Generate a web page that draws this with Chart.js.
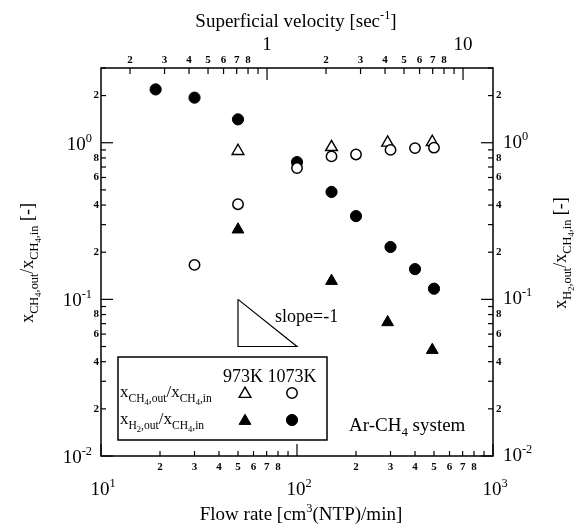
<!DOCTYPE html>
<html>
<head>
<meta charset="utf-8">
<script src="https://cdn.jsdelivr.net/npm/chart.js@4/dist/chart.umd.min.js"></script>
<style>
  html, body { margin: 0; padding: 0; background: #fff; }
  #wrap { width: 582px; height: 528px; }
</style>
</head>
<body>
<div id="wrap"><canvas id="c" width="582" height="528"></canvas></div>
<script>
// flow rate [cm3(NTP)/min] and outlet/inlet ratios
const ch4_973_flow = [50, 150, 290, 490];
const ch4_973_ratio = [0.885, 0.937, 1.0, 1.01];
const ch4_1073_flow = [30, 50, 100, 150, 200, 300, 400, 500];
const ch4_1073_ratio = [0.166, 0.405, 0.689, 0.818, 0.842, 0.90, 0.924, 0.93];
const h2_973_flow = [50, 150, 290, 490];
const h2_973_ratio = [0.279, 0.131, 0.0714, 0.0475];
const h2_1073_flow = [19, 30, 50, 100, 150, 200, 300, 400, 500];
const h2_1073_ratio = [2.19, 1.94, 1.41, 0.752, 0.485, 0.34, 0.216, 0.156, 0.117];

// slope = -1 guide triangle
const slopeFlow = [50, 50, 100, 50];
const slopeRatio = [0.1, 0.05, 0.05, 0.1];

// axis ranges
const flowRange = [10, 1000];
const velocityRange = [0.1422, 14.22];
const ratioRange = [0.01, 3];

// ticks
const flowTicks = [20, 30, 40, 50, 60, 70, 80, 90, 200, 300, 400, 500, 600, 700, 800, 900];
const flowTickLabels = ['2', '3', '4', '5', '6', '7', '8', '', '2', '3', '4', '5', '6', '7', '8', ''];
const flowMajor = [10, 100, 1000];
const flowMajorExp = ['1', '2', '3'];
const velTicks = [0.2, 0.3, 0.4, 0.5, 0.6, 0.7, 0.8, 0.9, 2, 3, 4, 5, 6, 7, 8, 9];
const velTickLabels = ['2', '3', '4', '5', '6', '7', '8', '', '2', '3', '4', '5', '6', '7', '8', ''];
const velMajor = [1, 10];
const velMajorLabels = ['1', '10'];
const ratioTicks = [0.02, 0.03, 0.04, 0.05, 0.06, 0.07, 0.08, 0.09, 0.2, 0.3, 0.4, 0.5, 0.6, 0.7, 0.8, 0.9, 2, 3];
const ratioTickLabels = ['2', '', '4', '', '6', '', '8', '', '2', '', '4', '', '6', '', '8', '', '2', ''];
const ratioMajor = [0.01, 0.1, 1];
const ratioMajorExp = ['-2', '-1', '0'];

const FONT = '"Liberation Serif", "Times New Roman", serif';

const pts = (xs, ys) => xs.map((x, i) => ({ x: x, y: ys[i] }));

// rich text: [text, level] level 0 normal, 1 sup, -1 sub, -2 sub of sub
const SIZE = { '0': 1, '1': 0.65, '-1': 0.68, '-2': 0.5 };
const SHIFT = { '0': 0, '1': -0.42, '-1': 0.28, '-2': 0.45 };

function richWidth(ctx, parts, size) {
  let w = 0;
  parts.forEach(([t, lv]) => {
    ctx.font = (size * SIZE[lv]) + 'px ' + FONT;
    w += ctx.measureText(t).width;
  });
  return w;
}

function drawRich(ctx, parts, x, y, size, align) {
  const w = richWidth(ctx, parts, size);
  let cx = align === 'center' ? x - w / 2 : align === 'right' ? x - w : x;
  ctx.textAlign = 'left';
  ctx.textBaseline = 'alphabetic';
  parts.forEach(([t, lv]) => {
    ctx.font = (size * SIZE[lv]) + 'px ' + FONT;
    ctx.fillText(t, cx, y + SHIFT[lv] * size);
    cx += ctx.measureText(t).width;
  });
}

const ch4Label = [['x', 0], ['CH', -1], ['4', -2], [',out', -1], ['/x', 0], ['CH', -1], ['4', -2], [',in', -1]];
const h2Label = [['x', 0], ['H', -1], ['2', -2], [',out', -1], ['/x', 0], ['CH', -1], ['4', -2], [',in', -1]];

const framePlugin = {
  id: 'frame',
  afterDraw(chart) {
    const ctx = chart.ctx;
    const a = chart.chartArea;
    const sx = chart.scales.x, sv = chart.scales.x2, sy = chart.scales.y;
    ctx.save();
    ctx.strokeStyle = '#000';
    ctx.fillStyle = '#000';
    ctx.lineWidth = 1.5;
    ctx.strokeRect(a.left, a.top, a.right - a.left, a.bottom - a.top);

    ctx.lineWidth = 1.2;
    const tick = (x1, y1, x2, y2) => { ctx.beginPath(); ctx.moveTo(x1, y1); ctx.lineTo(x2, y2); ctx.stroke(); };

    const minorFont = 'bold 11px ' + FONT;
    // bottom + top
    flowTicks.forEach((v, i) => {
      const px = sx.getPixelForValue(v);
      tick(px, a.bottom, px, a.bottom - 5);
      ctx.font = minorFont; ctx.textAlign = 'center'; ctx.textBaseline = 'middle';
      if (flowTickLabels[i]) ctx.fillText(flowTickLabels[i], px, 467);
    });
    flowMajor.forEach((v, i) => {
      const px = sx.getPixelForValue(v);
      tick(px, a.bottom, px, a.bottom - 12);
      drawRich(ctx, [['10', 0], [flowMajorExp[i], 1]], px + 2, 495, 19, 'center');
    });
    velTicks.forEach((v, i) => {
      const px = sv.getPixelForValue(v);
      tick(px, a.top, px, a.top + 6);
      ctx.font = minorFont; ctx.textAlign = 'center'; ctx.textBaseline = 'middle';
      if (velTickLabels[i]) ctx.fillText(velTickLabels[i], px, 60);
    });
    velMajor.forEach((v, i) => {
      const px = sv.getPixelForValue(v);
      tick(px, a.top, px, a.top + 12);
      drawRich(ctx, [[velMajorLabels[i], 0]], px, 50, 19, 'center');
    });
    // left + right
    ratioTicks.forEach((v, i) => {
      const py = sy.getPixelForValue(v);
      tick(a.left, py, a.left + 5, py);
      tick(a.right, py, a.right - 5, py);
      ctx.font = minorFont; ctx.textBaseline = 'middle';
      if (ratioTickLabels[i]) {
        ctx.textAlign = 'right'; ctx.fillText(ratioTickLabels[i], a.left - 2, py);
        ctx.textAlign = 'left'; ctx.fillText(ratioTickLabels[i], a.right + 3, py);
      }
    });
    ratioMajor.forEach((v, i) => {
      const py = sy.getPixelForValue(v);
      tick(a.left, py, a.left + 12, py);
      tick(a.right, py, a.right - 12, py);
      drawRich(ctx, [['10', 0], [ratioMajorExp[i], 1]], a.left - 9, py + 7, 19, 'right');
      drawRich(ctx, [['10', 0], [ratioMajorExp[i], 1]], a.right + 10, py + 5, 19, 'left');
    });

    // axis titles
    drawRich(ctx, [['Superficial velocity [sec', 0], ['-1', 1], [']', 0]], 296, 27, 19, 'center');
    drawRich(ctx, [['Flow rate [cm', 0], ['3', 1], ['(NTP)/min]', 0]], 301, 520, 19, 'center');
    ctx.save();
    ctx.translate(33, 263);
    ctx.rotate(-Math.PI / 2);
    drawRich(ctx, ch4Label.concat([[' [-]', 0]]), 0, 0, 18, 'center');
    ctx.restore();
    ctx.save();
    ctx.translate(566, 253);
    ctx.rotate(-Math.PI / 2);
    drawRich(ctx, h2Label.concat([[' [-]', 0]]), 0, 0, 18, 'center');
    ctx.restore();

    // annotations
    drawRich(ctx, [['slope=-1', 0]], 275, 322, 18, 'left');
    drawRich(ctx, [['Ar-CH', 0], ['4', -1], [' system', 0]], 349, 431, 19, 'left');

    // legend box
    ctx.lineWidth = 1.5;
    ctx.strokeRect(118, 357, 209, 83);
    drawRich(ctx, [['973K 1073K', 0]], 223, 382, 18, 'left');
    drawRich(ctx, ch4Label, 120, 397, 17, 'left');
    drawRich(ctx, h2Label, 120, 424, 17, 'left');
    const ds = chart.data.datasets;
    const mark = (d, x, y) => {
      ctx.fillStyle = d.pointBackgroundColor;
      ctx.strokeStyle = d.pointBorderColor;
      ctx.lineWidth = d.pointBorderWidth;
      Chart.helpers.drawPoint(ctx, { pointStyle: d.pointStyle, radius: d.pointRadius, rotation: 0, borderWidth: d.pointBorderWidth }, x, y);
    };
    mark(ds[0], 245, 394);
    mark(ds[1], 292, 393);
    mark(ds[2], 245, 421);
    mark(ds[3], 292, 420);
    ctx.restore();
  }
};

new Chart(document.getElementById('c'), {
  type: 'scatter',
  data: {
    datasets: [
      { label: 'CH4 973K', data: pts(ch4_973_flow, ch4_973_ratio), pointStyle: 'triangle', pointRadius: 6.8,
        pointBackgroundColor: '#fff', pointBorderColor: '#000', pointBorderWidth: 1.4, order: 2 },
      { label: 'CH4 1073K', data: pts(ch4_1073_flow, ch4_1073_ratio), pointStyle: 'circle', pointRadius: 5.2,
        pointBackgroundColor: '#fff', pointBorderColor: '#000', pointBorderWidth: 1.5, order: 0 },
      { label: 'H2 973K', data: pts(h2_973_flow, h2_973_ratio), pointStyle: 'triangle', pointRadius: 6.8,
        pointBackgroundColor: '#000', pointBorderColor: '#000', pointBorderWidth: 1, order: 1 },
      { label: 'H2 1073K', data: pts(h2_1073_flow, h2_1073_ratio), pointStyle: 'circle', pointRadius: 5.6,
        pointBackgroundColor: '#000', pointBorderColor: '#000', pointBorderWidth: 1, order: 3 },
      { label: 'slope', data: pts(slopeFlow, slopeRatio), showLine: true, pointRadius: 0,
        borderColor: '#000', borderWidth: 1.2, order: 4 }
    ]
  },
  options: {
    responsive: false,
    animation: false,
    events: [],
    layout: { padding: { left: 101, right: 89, top: 68, bottom: 72 } },
    plugins: { legend: { display: false }, tooltip: { enabled: false } },
    scales: {
      x: { type: 'logarithmic', position: 'bottom', min: flowRange[0], max: flowRange[1], display: false },
      x2: { type: 'logarithmic', position: 'top', min: velocityRange[0], max: velocityRange[1], display: false },
      y: { type: 'logarithmic', position: 'left', min: ratioRange[0], max: ratioRange[1], display: false },
      y2: { type: 'logarithmic', position: 'right', min: ratioRange[0], max: ratioRange[1], display: false }
    }
  },
  plugins: [framePlugin]
});
</script>
</body>
</html>
